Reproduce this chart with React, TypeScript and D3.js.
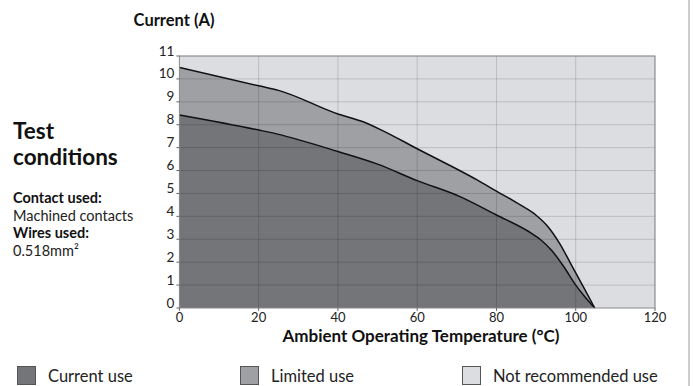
import React from "react";
import * as d3 from "d3";

const xTicks = [0, 20, 40, 60, 80, 100, 120];
const yTicks = [0, 1, 2, 3, 4, 5, 6, 7, 8, 9, 10, 11];

const limitedX = [0, 20, 25, 40, 46, 50.6, 60, 75, 80, 86, 90, 93, 96, 99, 102, 104.8];
const limitedY = [10.5, 9.7, 9.5, 8.47, 8.15, 7.8, 6.95, 5.6, 5.1, 4.5, 4.05, 3.55, 2.8, 1.85, 0.9, 0];

const currentX = [0, 20, 24.5, 40, 50, 60, 70.8, 80, 88, 91, 94, 97, 100, 102.5, 104.8];
const currentY = [8.43, 7.77, 7.6, 6.83, 6.28, 5.56, 4.86, 4.06, 3.35, 3.0, 2.5, 1.8, 1.0, 0.45, 0];

const legendLabels = ["Current use", "Limited use", "Not recommended use"];
const legendColors = ["#747579", "#9fa0a4", "#dcdde0"];

const FONT = "Lato, 'Open Sans', sans-serif";

export default function App() {
  const W = 694, H = 386;
  const x0 = 179.4, x1 = 655, y0 = 308, y1 = 56;
  const x = d3.scaleLinear().domain([0, 120]).range([x0, x1]);
  const y = d3.scaleLinear().domain([0, 11]).range([y0, y1]);

  const lim = limitedX.map((v, i) => [v, limitedY[i]] as [number, number]);
  const cur = currentX.map((v, i) => [v, currentY[i]] as [number, number]);

  const area = d3.area<[number, number]>()
    .x(d => x(d[0])).y0(y(0)).y1(d => y(d[1]))
    .curve(d3.curveMonotoneX);
  const line = d3.line<[number, number]>()
    .x(d => x(d[0])).y(d => y(d[1]))
    .curve(d3.curveMonotoneX);

  const legendX = [17, 240, 462];

  return (
    <svg width={W} height={H} style={{ position: "absolute", left: 0, top: 0, fontFamily: FONT }}>
      <rect x={0} y={0} width={W} height={H} fill="#fff" />
      <line x1={689} x2={689} y1={0} y2={H} stroke="#9a9a9a" strokeWidth={1} />
      <text x={174} y={26} textAnchor="middle" fontSize={16.5} fontWeight={700} fill="#111">Current (A)</text>

      <rect x={x0} y={y1} width={x1 - x0} height={y0 - y1} fill={legendColors[2]} />
      <path d={area(lim) || ""} fill={legendColors[1]} />
      <path d={area(cur) || ""} fill={legendColors[0]} />

      {yTicks.filter(t => t > 0).map(t => (
        <line key={"gy" + t} x1={x0} x2={x1} y1={y(t)} y2={y(t)} stroke="rgba(0,0,0,0.15)" />
      ))}
      {xTicks.filter(t => t > 0).map(t => (
        <line key={"gx" + t} x1={x(t)} x2={x(t)} y1={y1} y2={y0} stroke="rgba(0,0,0,0.15)" />
      ))}

      <path d={line(lim) || ""} fill="none" stroke="#111" strokeWidth={1.5} />
      <path d={line(cur) || ""} fill="none" stroke="#111" strokeWidth={1.5} />

      <rect x={x0} y={y1} width={x1 - x0} height={y0 - y1} fill="none" stroke="#8a8a8a" strokeWidth={1} />

      {yTicks.map(t => (
        <g key={"ty" + t}>
          <line x1={x0 - 3} x2={x0} y1={y(t)} y2={y(t)} stroke="#666" />
          <text x={x0 - 5} y={y(t) - 0.5} textAnchor="end" fontSize={13.5} fill="#222">{t}</text>
        </g>
      ))}
      {xTicks.map(t => (
        <g key={"tx" + t}>
          <line x1={x(t)} x2={x(t)} y1={y0} y2={y0 + 3} stroke="#666" />
          <text x={x(t)} y={y0 + 13.5} textAnchor="middle" fontSize={13} fill="#222">{t}</text>
        </g>
      ))}
      <text x={421} y={342} textAnchor="middle" fontSize={17} fontWeight={700} fill="#111">Ambient Operating Temperature (°C)</text>

      <text x={13} y={139} fontSize={22.5} fontWeight={700} fill="#111">Test</text>
      <text x={13} y={165} fontSize={22.5} fontWeight={700} fill="#111">conditions</text>
      <text x={13} y={203} fontSize={14.5} fontWeight={700} fill="#111">Contact used:</text>
      <text x={13} y={220.5} fontSize={14.5} fill="#222">Machined contacts</text>
      <text x={13} y={238} fontSize={14.5} fontWeight={700} fill="#111">Wires used:</text>
      <text x={13} y={255.5} fontSize={14.5} fill="#222">0.518mm²</text>

      {legendLabels.map((l, i) => (
        <g key={l}>
          <rect x={legendX[i] + 0.5} y={366.5} width={18} height={18} fill={legendColors[i]} stroke="#555" strokeWidth={1} />
          <text x={legendX[i] + 31} y={382} fontSize={16.5} fill="#222">{l}</text>
        </g>
      ))}
    </svg>
  );
}
